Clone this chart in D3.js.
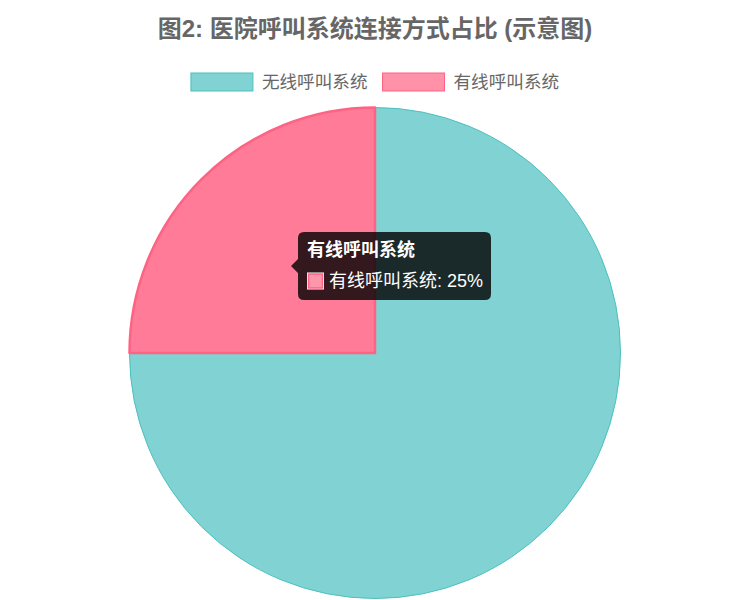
<!DOCTYPE html>
<html>
<head>
<meta charset="utf-8">
<script src="https://cdn.jsdelivr.net/npm/d3@7/dist/d3.min.js"></script>
<style>
  html, body { margin: 0; padding: 0; background: #fff; }
  svg { display: block; font-family: "Liberation Sans", Arial, "Noto Sans CJK SC", sans-serif; }
</style>
</head>
<body>
<svg id="chart" width="750" height="600"></svg>
<script>
const titleText = "图2: 医院呼叫系统连接方式占比 (示意图)";
const categories = ["无线呼叫系统", "有线呼叫系统"];
const values = [75, 25];
const fillColors = ["rgba(75,192,192,0.7)", "rgba(255,99,132,0.7)"];
const borderColors = ["rgb(75,192,192)", "rgb(255,99,132)"];
const hoverFill = "rgba(255,86,122,0.78)";
const activeIndex = 1;

const W = 750, H = 600;
const svg = d3.select("#chart");

// Title
svg.append("text")
  .attr("x", W / 2).attr("y", 28)
  .attr("text-anchor", "middle").attr("dominant-baseline", "central")
  .attr("font-size", 24).attr("font-weight", "bold").attr("fill", "#666")
  .text(titleText);

// Legend
const boxW = 62, boxH = 18, gapText = 9, gapItem = 15;
const legend = svg.append("g");
const items = categories.map((c, i) => {
  const g = legend.append("g");
  g.append("rect").attr("width", boxW).attr("height", boxH)
    .attr("fill", fillColors[i]).attr("stroke", borderColors[i]).attr("stroke-width", 1);
  const t = g.append("text").attr("x", boxW + gapText).attr("y", boxH / 2)
    .attr("dominant-baseline", "central").attr("font-size", 17.6).attr("fill", "#666").text(c);
  return { g, w: boxW + gapText + t.node().getComputedTextLength() };
});
const totalW = d3.sum(items, d => d.w) + gapItem * (items.length - 1);
let lx = (W - totalW) / 2;
items.forEach(it => { it.g.attr("transform", `translate(${lx},${73})`); lx += it.w + gapItem; });

// Pie
const cx = 375, cy = 353, r = 245.5;
const pie = d3.pie().sort(null).value(d => d)(values);
const arc = d3.arc().innerRadius(0).outerRadius(r);
const pg = svg.append("g").attr("transform", `translate(${cx},${cy})`);
pg.selectAll("path").data(pie).join("path")
  .attr("d", arc)
  .attr("fill", (d, i) => i === activeIndex ? hoverFill : fillColors[i])
  .attr("stroke", (d, i) => borderColors[i])
  .attr("stroke-width", (d, i) => i === activeIndex ? 2.5 : 1)
  .attr("stroke-linejoin", "round");
pg.selectAll("path").filter((d, i) => i === activeIndex).raise();

// Tooltip
const total = d3.sum(values);
const pct = Math.round(values[activeIndex] / total * 100);
const tx = 298, ty = 232, tw = 193, th = 68, rad = 6, caret = 7, caretY = 266;
const tip = svg.append("g");
const path = d3.path();
path.moveTo(tx + rad, ty);
path.lineTo(tx + tw - rad, ty);
path.quadraticCurveTo(tx + tw, ty, tx + tw, ty + rad);
path.lineTo(tx + tw, ty + th - rad);
path.quadraticCurveTo(tx + tw, ty + th, tx + tw - rad, ty + th);
path.lineTo(tx + rad, ty + th);
path.quadraticCurveTo(tx, ty + th, tx, ty + th - rad);
path.lineTo(tx, caretY + caret);
path.lineTo(tx - caret, caretY);
path.lineTo(tx, caretY - caret);
path.lineTo(tx, ty + rad);
path.quadraticCurveTo(tx, ty, tx + rad, ty);
path.closePath();
tip.append("path").attr("d", path.toString()).attr("fill", "rgba(0,0,0,0.8)");
tip.append("text").attr("x", 307).attr("y", 250)
  .attr("dominant-baseline", "central").attr("font-size", 18).attr("font-weight", "bold")
  .attr("fill", "#fff").text(categories[activeIndex]);
tip.append("rect").attr("x", 307).attr("y", 272.5).attr("width", 17).attr("height", 17)
  .attr("fill", "#fff");
tip.append("rect").attr("x", 308.5).attr("y", 274).attr("width", 14).attr("height", 14)
  .attr("fill", "rgba(255,150,172,1)").attr("stroke", borderColors[activeIndex]).attr("stroke-width", 1.5);
tip.append("text").attr("x", 329).attr("y", 281)
  .attr("dominant-baseline", "central").attr("font-size", 18)
  .attr("fill", "#fff").text(`${categories[activeIndex]}: ${pct}%`);
</script>
</body>
</html>
